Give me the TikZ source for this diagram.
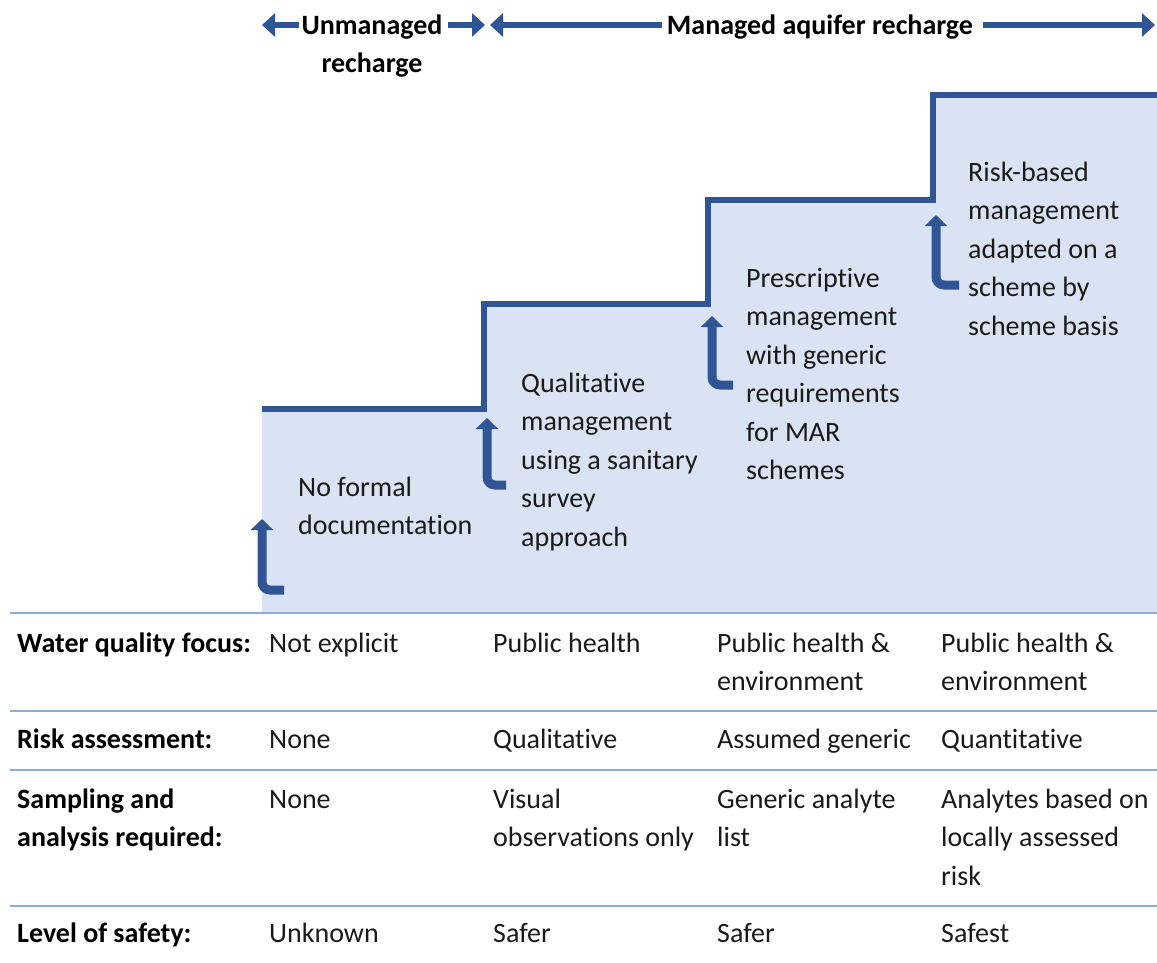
\documentclass[tikz,border=0pt]{standalone}
\usepackage{fontspec}
\setmainfont{Carlito}[Ligatures=NoCommon]
\usetikzlibrary{arrows.meta}
\definecolor{darkblue}{HTML}{2F5597}
\definecolor{fillblue}{HTML}{DAE3F3}
\definecolor{lineblue}{HTML}{8FAADC}
\definecolor{ink}{HTML}{1A1A1A}
\begin{document}
\begin{tikzpicture}[x=1pt,y=-1pt,
  txt/.style={font=\fontsize{28}{38.5}\selectfont, text=ink, inner sep=0pt, anchor=base west, align=left},
  hdr/.style={font=\fontsize{28}{38.5}\selectfont\bfseries, text=black, inner sep=0pt, anchor=base west, align=left},
  stair/.style={draw=darkblue, line width=6pt, line join=miter},
  bent/.style={draw=darkblue, line width=9pt, rounded corners=8pt, -{Triangle[length=11pt,width=22pt]}},
  blockarrow/.style={draw=darkblue, line width=6pt, -{Triangle[length=13pt,width=23pt]}},
  rowrule/.style={draw=lineblue, line width=2.8pt}]
\useasboundingbox (0,0) rectangle (1157,962);
% staircase
\fill[fillblue] (262,612) -- (262,409) -- (484,409) -- (484,304) -- (708,304) -- (708,200) -- (933,200) -- (933,95) -- (1157,95) -- (1157,612) -- cycle;
\draw[stair] (262,409) -- (484,409) -- (484,304) -- (708,304) -- (708,200) -- (933,200) -- (933,95) -- (1157,95);
% bent arrows
\coordinate (b1t) at (284,590); \coordinate (b1c) at (262,590); \coordinate (b1h) at (262,519);
\coordinate (b2t) at (506,485); \coordinate (b2c) at (487,485); \coordinate (b2h) at (487,418);
\coordinate (b3t) at (733,385); \coordinate (b3c) at (712,385); \coordinate (b3h) at (712,316);
\coordinate (b4t) at (959,285); \coordinate (b4c) at (936,285); \coordinate (b4h) at (936,215);
\draw[bent] (b1t) -- (b1c) -- (b1h);
\draw[bent] (b2t) -- (b2c) -- (b2h);
\draw[bent] (b3t) -- (b3c) -- (b3h);
\draw[bent] (b4t) -- (b4c) -- (b4h);
% step texts (anchor = baseline of the last line)
\node[txt] (s1) at (298,534.5) {No formal\\documentation};
\node[txt] (s2) at (521,546) {Qualitative\\management\\using a sanitary\\survey\\approach};
\node[txt] (s3) at (746,479.5) {Prescriptive\\management\\with generic\\requirements\\for MAR\\schemes};
\node[txt] (s4) at (968,335) {Risk-based\\management\\adapted on a\\scheme by\\scheme basis};
% header
\node[hdr, anchor=base, align=center] (unm) at (372,72.5) {Unmanaged\\recharge};
\node[hdr, anchor=base] (mar) at (820,34) {Managed aquifer recharge};
\coordinate (a1s) at (299,25); \coordinate (a1e) at (262,25);
\coordinate (a2s) at (448,25); \coordinate (a2e) at (485,25);
\coordinate (a3s) at (662,25); \coordinate (a3e) at (490,25);
\coordinate (a4s) at (983,25); \coordinate (a4e) at (1155,25);
\draw[blockarrow] (a1s) -- (a1e);
\draw[blockarrow] (a2s) -- (a2e);
\draw[blockarrow] (a3s) -- (a3e);
\draw[blockarrow] (a4s) -- (a4e);
% table rules
\draw[rowrule] (10,613) -- (1157,613);
\draw[rowrule] (10,711) -- (1157,711);
\draw[rowrule] (10,770) -- (1157,770);
\draw[rowrule] (10,906) -- (1157,906);
% table row 1
\node[hdr] (r1) at (17,652) {Water quality focus:};
\node[txt] (r1c1) at (269,652) {Not explicit};
\node[txt] (r1c2) at (493,652) {Public health};
\node[txt] (r1c3) at (717,690.5) {Public health \&\\environment};
\node[txt] (r1c4) at (941,690.5) {Public health \&\\environment};
% row 2
\node[hdr] (r2) at (17,748) {Risk assessment:};
\node[txt] (r2c1) at (269,748) {None};
\node[txt] (r2c2) at (493,748) {Qualitative};
\node[txt] (r2c3) at (717,748) {Assumed generic};
\node[txt] (r2c4) at (941,748) {Quantitative};
% row 3
\node[hdr] (r3) at (17,846.5) {Sampling and\\analysis required:};
\node[txt] (r3c1) at (269,808) {None};
\node[txt] (r3c2) at (493,846.5) {Visual\\observations only};
\node[txt] (r3c3) at (717,846.5) {Generic analyte\\list};
\node[txt] (r3c4) at (941,885) {Analytes based on\\locally assessed\\risk};
% row 4
\node[hdr] (r4) at (17,942) {Level of safety:};
\node[txt] (r4c1) at (269,942) {Unknown};
\node[txt] (r4c2) at (493,942) {Safer};
\node[txt] (r4c3) at (717,942) {Safer};
\node[txt] (r4c4) at (941,942) {Safest};
\end{tikzpicture}
\end{document}
